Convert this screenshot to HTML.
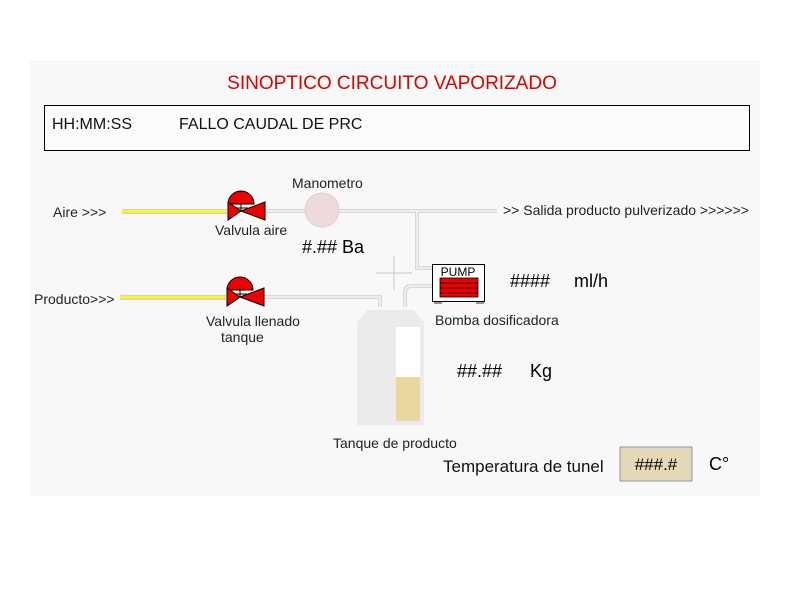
<!DOCTYPE html>
<html><head><meta charset="utf-8"><style>
html,body{margin:0;padding:0;background:#fff;}
svg{display:block;font-family:"Liberation Sans",sans-serif;}
</style></head><body>
<svg width="797" height="597" viewBox="0 0 797 597" xmlns="http://www.w3.org/2000/svg">
<rect x="30" y="60" width="730" height="436" fill="#f8f8f8"/>
<text x="392" y="89" font-size="19" fill="#e00000" text-anchor="middle">SINOPTICO CIRCUITO VAPORIZADO</text>
<rect x="44.5" y="105.5" width="705" height="45" fill="#fbfbfb" stroke="#000" stroke-width="1"/>
<text x="52" y="129" font-size="16" fill="#111">HH:MM:SS</text>
<text x="179" y="129" font-size="16" fill="#111">FALLO CAUDAL DE PRC</text>

<g fill="none" stroke="#d8d8d8" stroke-width="4">
<path d="M265 211 H497"/>
<path d="M417 211 V268 H432"/>
<path d="M263 297 H380 V307"/>
<path d="M432 286 H412 Q405 286 405 293 V307"/>
</g>
<g fill="none" stroke="#f4f4f4" stroke-width="1.5">
<path d="M265 211 H497"/>
<path d="M417 211 V268 H432"/>
<path d="M263 297 H380 V307"/>
<path d="M432 286 H412 Q405 286 405 293 V307"/>
</g>
<rect x="122" y="209" width="106" height="5" fill="#d0d0d0"/>
<rect x="122" y="210" width="106" height="2.5" fill="#ffff00"/>
<rect x="120" y="295" width="106" height="5" fill="#d0d0d0"/>
<rect x="120" y="296" width="106" height="2.5" fill="#ffff00"/>

<text x="53" y="217" font-size="14" fill="#222">Aire &gt;&gt;&gt;</text>
<text x="34" y="304" font-size="14" fill="#222">Producto&gt;&gt;&gt;</text>

<g stroke="#000" stroke-width="1">
<path d="M228 204 A13 13 0 0 1 254 204 Z" fill="#ee0000"/>
<line x1="241" y1="204" x2="241" y2="211"/>
<line x1="234" y1="208" x2="248" y2="208"/>
<path d="M228 202 L241 211 L228 220 Z" fill="#ee0000"/>
<path d="M265 202 L241 211 L265 220 Z" fill="#ee0000"/>
</g>
<g transform="translate(-1,86)" stroke="#000" stroke-width="1">
<path d="M228 204 A13 13 0 0 1 254 204 Z" fill="#ee0000"/>
<line x1="241" y1="204" x2="241" y2="211"/>
<line x1="234" y1="208" x2="248" y2="208"/>
<path d="M228 202 L241 211 L228 220 Z" fill="#ee0000"/>
<path d="M265 202 L241 211 L265 220 Z" fill="#ee0000"/>
</g>
<text x="215" y="235" font-size="14" fill="#222">Valvula aire</text>
<text x="206" y="326" font-size="14" fill="#222">Valvula llenado</text>
<text x="221" y="342" font-size="14" fill="#222">tanque</text>

<circle cx="322" cy="210" r="17" fill="#eedada" stroke="#e4cccc"/>
<text x="292" y="188" font-size="14" fill="#222">Manometro</text>
<text x="302" y="253" font-size="18" fill="#000">#.##  Ba</text>

<text x="503" y="215" font-size="14" fill="#222">&gt;&gt; Salida producto pulverizado &gt;&gt;&gt;&gt;&gt;&gt;</text>

<rect x="432.5" y="264.5" width="52" height="37" fill="#fff" stroke="#000"/>
<text x="458" y="276" font-size="12" fill="#000" text-anchor="middle">PUMP</text>
<rect x="440" y="278" width="38" height="19" fill="#ee0000" stroke="#000" stroke-width="0.8"/>
<g stroke="#000" stroke-width="0.8"><line x1="440" y1="283" x2="478" y2="283"/><line x1="440" y1="288" x2="478" y2="288"/><line x1="440" y1="293" x2="478" y2="293"/>
<line x1="434" y1="303" x2="442" y2="303"/><line x1="476" y1="303" x2="484" y2="303"/></g>
<text x="435" y="325" font-size="14" fill="#222">Bomba dosificadora</text>
<text x="510" y="287" font-size="18" fill="#000">####</text>
<text x="574" y="287" font-size="18" fill="#000">ml/h</text>

<g stroke="#c8c8c8"><line x1="376" y1="273" x2="412" y2="273"/><line x1="394" y1="256" x2="394" y2="290"/></g>

<path d="M367 310 H414 L420 318 L424 322 V425 H357 V322 L361 318 Z" fill="#ebebeb"/>
<rect x="396" y="327" width="24" height="50" fill="#fff"/>
<rect x="396" y="377" width="24" height="44" fill="#e8d8a0"/>
<text x="333" y="448" font-size="14" fill="#222">Tanque de producto</text>
<text x="457" y="377" font-size="18" fill="#000">##.##</text>
<text x="530" y="377" font-size="18" fill="#000">Kg</text>

<text x="443" y="472" font-size="17" fill="#111">Temperatura de tunel</text>
<rect x="620" y="447" width="72" height="34" fill="#d8d8d8" stroke="#999"/>
<rect x="622" y="449" width="68" height="30" fill="#eedba0" opacity="0.6"/>
<text x="656" y="470" font-size="17" fill="#000" text-anchor="middle">###.#</text>
<text x="709" y="470" font-size="18" fill="#000">C°</text>
</svg>
</body></html>
